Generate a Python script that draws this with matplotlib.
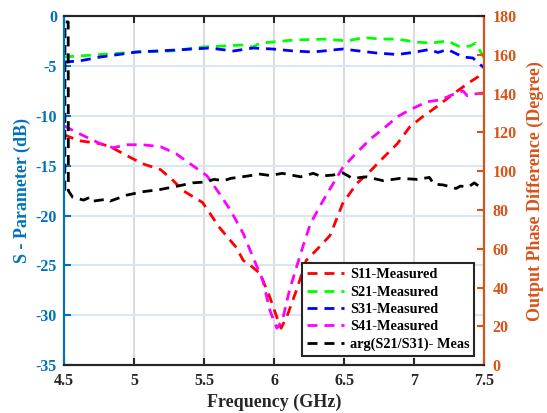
import matplotlib
matplotlib.use("Agg")
import matplotlib.pyplot as plt
from matplotlib.lines import Line2D

plt.rcParams['font.family'] = ['Liberation Serif', 'DejaVu Serif']
plt.rcParams['font.weight'] = 'bold'
plt.rcParams['axes.unicode_minus'] = False

# ---------------- data ----------------
f_s21 = [4.50, 4.71, 5.02, 5.26, 5.49, 5.77, 5.85, 5.90, 5.99, 6.14, 6.38, 6.52, 6.64, 6.76,
         6.88, 7.01, 7.12, 7.24, 7.33, 7.40, 7.44, 7.50]
s21 = [-4.1, -3.9, -3.6, -3.5, -3.1, -2.9, -3.1, -2.7, -2.6, -2.4, -2.3, -2.5, -2.15, -2.3,
       -2.3, -2.6, -2.7, -2.5, -3.1, -3.0, -2.7, -4.2]

f_s31 = [4.50, 4.61, 4.76, 5.02, 5.30, 5.54, 5.71, 5.85, 5.99, 6.14, 6.28, 6.49, 6.73, 6.88,
         6.99, 7.11, 7.17, 7.24, 7.35, 7.42, 7.50]
s31 = [-4.6, -4.5, -4.1, -3.6, -3.4, -3.2, -3.5, -3.2, -3.3, -3.5, -3.6, -3.3, -3.7, -3.85,
       -3.65, -3.35, -3.65, -3.35, -4.1, -4.2, -5.2]

f_s11 = [4.50, 4.61, 4.76, 4.83, 4.95, 5.06, 5.19, 5.28, 5.35, 5.49, 5.61, 5.73, 5.78, 5.83,
         5.90, 5.97, 6.02, 6.05, 6.09, 6.16, 6.23, 6.30, 6.40, 6.49, 6.59, 6.69, 6.78, 6.88,
         6.97, 7.06, 7.16, 7.28, 7.40, 7.50]
s11 = [-11.9, -12.5, -12.8, -13.1, -14.0, -14.8, -15.4, -16.5, -17.5, -18.7, -21.2, -23.2, -24.5, -25.0,
       -25.8, -28.2, -30.2, -31.3, -30.2, -27.5, -24.5, -23.5, -22.0, -18.8, -16.8, -15.5, -14.2, -12.8,
       -11.1, -10.1, -9.1, -7.8, -6.6, -5.7]

f_s41 = [4.50, 4.61, 4.76, 4.85, 4.95, 5.06, 5.19, 5.30, 5.42, 5.52, 5.61, 5.69, 5.78, 5.85,
         5.92, 5.97, 6.02, 6.06, 6.11, 6.19, 6.26, 6.35, 6.49, 6.59, 6.69, 6.78, 6.88, 6.97,
         7.09, 7.19, 7.27, 7.35, 7.38, 7.44, 7.50]
s41 = [-11.0, -11.8, -12.8, -13.2, -12.9, -12.9, -13.1, -13.8, -15.0, -16.0, -17.8, -19.5, -21.8, -24.2,
       -26.5, -29.5, -31.3, -30.5, -27.5, -23.8, -20.8, -18.5, -15.2, -13.7, -12.3, -11.3, -10.1, -9.4,
       -8.6, -8.4, -7.9, -7.5, -8.0, -7.8, -7.7]

f_ph = [4.506, 4.507, 4.530, 4.531, 4.56, 4.64, 4.69, 4.71, 4.81, 4.83, 4.95, 5.06, 5.19, 5.31,
        5.42, 5.52, 5.57, 5.64, 5.69, 5.81, 5.90, 5.97, 6.06, 6.19, 6.28, 6.33, 6.42, 6.49,
        6.56, 6.66, 6.78, 6.90, 7.02, 7.11, 7.14, 7.21, 7.30, 7.33, 7.39, 7.43, 7.50]
phase = [90, 177, 177, 90, 86.7, 85.1, 86.7, 84.6, 85.6, 84.6, 87.7, 89.4, 90.6, 92.3,
         94.0, 94.5, 95.8, 95.1, 96.3, 97.5, 98.5, 97.8, 98.9, 97.1, 98.9, 97.5, 98.0, 99.2,
         96.3, 97.1, 95.1, 96.3, 95.8, 96.8, 93.4, 92.9, 91.1, 92.3, 92.0, 94.0, 90.3]

labels = ['S11-Measured', 'S21-Measured', 'S31-Measured', 'S41-Measured', 'arg(S21/S31)- Meas']
colors = ['#FF0000', '#00FF00', '#0000FF', '#FF00FF', '#000000']

x_ticks = [4.5, 5, 5.5, 6, 6.5, 7, 7.5]
x_ticklabels = ['4.5', '5', '5.5', '6', '6.5', '7', '7.5']
y_ticks = list(range(-35, 1, 5))
y2_ticks = list(range(0, 181, 20))

# ---------------- plot ----------------
BLUE = '#0072BD'
ORANGE = '#D95319'
DARK = '#262626'

fig = plt.figure(figsize=(5.47, 4.13), dpi=100)
ax = fig.add_axes([0.117, 0.116, 0.768, 0.845])
ax2 = ax.twinx()

dash = (3.6, 2.5)
lw = 2.0
ax.plot(f_s11, s11, color=colors[0], lw=lw, dashes=dash)
ax.plot(f_s21, s21, color=colors[1], lw=lw, dashes=dash)
ax.plot(f_s31, s31, color=colors[2], lw=lw, dashes=dash)
ax.plot(f_s41, s41, color=colors[3], lw=lw, dashes=dash)
ax2.plot(f_ph, phase, color=colors[4], lw=lw, dashes=dash)

ax.set_xlim(4.5, 7.5)
ax.set_ylim(-35, 0)
ax2.set_ylim(0, 180)
ax.set_xticks(x_ticks)
ax.set_xticklabels(x_ticklabels)
ax.set_yticks(y_ticks)
ax2.set_yticks(y2_ticks)

ax.grid(True, axis='x', color='#d9dce0', lw=1.5)
ax.grid(True, axis='y', color='#dbe6f0', lw=1.5)
ax.set_axisbelow(True)

for a in (ax, ax2):
    a.spines['top'].set_color(DARK)
    a.spines['bottom'].set_color(DARK)
    a.spines['left'].set_color(BLUE)
    a.spines['right'].set_color(ORANGE)
    for s in a.spines.values():
        s.set_linewidth(1.5)

ax.tick_params(axis='x', direction='in', top=True, colors=DARK, labelsize=11.5, length=5, width=1.5, pad=6)
ax.tick_params(axis='y', direction='in', colors=BLUE, labelsize=11.5, length=5, width=1.5, pad=5)
ax2.tick_params(axis='y', direction='in', colors=ORANGE, labelsize=11.5, length=5, width=1.5, pad=6)
for lab in ax.get_xticklabels() + ax.get_yticklabels() + ax2.get_yticklabels():
    lab.set_fontweight('bold')

ax.set_xlabel('Frequency (GHz)', fontsize=13, fontweight='bold', color=DARK, labelpad=3)
ax.set_ylabel('S - Parameter (dB)', fontsize=13, fontweight='bold', color=BLUE, labelpad=3)
ax2.set_ylabel('Output Phase Difference (Degree)', fontsize=13, fontweight='bold', color=ORANGE, labelpad=7)

handles = [Line2D([], [], color=c, lw=lw, dashes=dash) for c in colors]
leg = ax2.legend(handles, labels, loc='lower right', bbox_to_anchor=(0.977, 0.026),
                 prop={'family': 'Liberation Serif', 'weight': 'bold', 'size': 10.3},
                 frameon=True, fancybox=False, edgecolor=DARK, framealpha=1,
                 handlelength=2.6, handletextpad=0.4, borderpad=0.35, labelspacing=0.3,
                 borderaxespad=0)
leg.get_frame().set_linewidth(1.5)

fig.savefig('out.png', dpi=100)
